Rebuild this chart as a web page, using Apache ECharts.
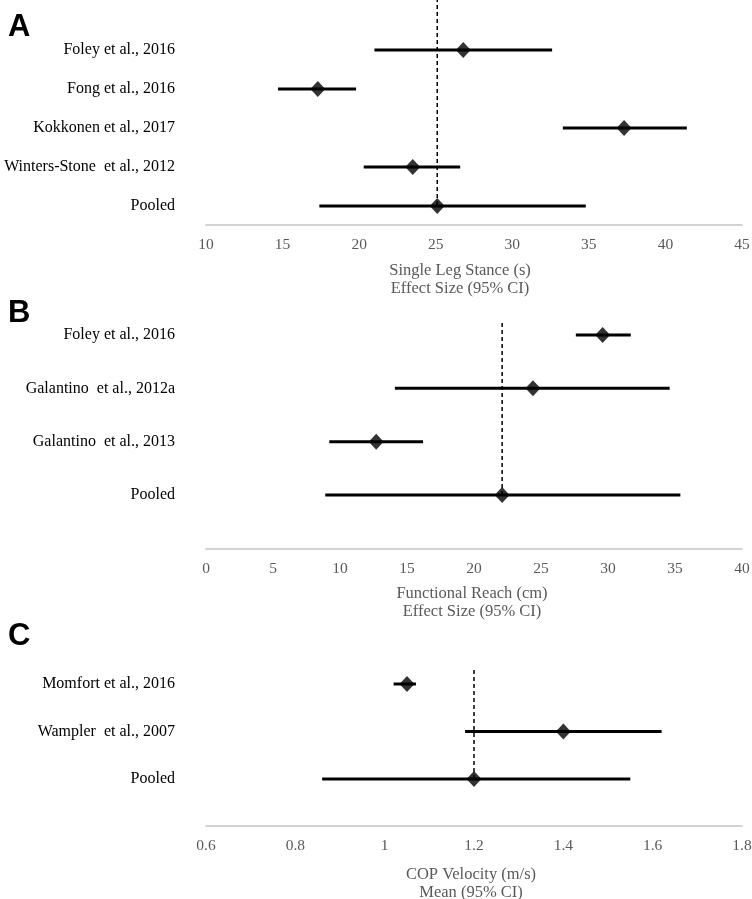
<!DOCTYPE html>
<html>
<head>
<meta charset="utf-8">
<script src="https://cdn.jsdelivr.net/npm/echarts@6/dist/echarts.min.js"></script>
<style>
html,body{margin:0;padding:0;background:#fff;}
#chart{width:752px;height:899px;}
</style>
</head>
<body>
<div id="chart"></div>
<script>
// ---- Panel A: Single Leg Stance ----
const catA = ['Foley et al., 2016', 'Fong et al., 2016', 'Kokkonen et al., 2017', 'Winters-Stone  et al., 2012', 'Pooled'];
const estA = [26.8, 17.3, 37.3, 23.5, 25.1];
const loA  = [21.0, 14.7, 33.3, 20.3, 17.4];
const hiA  = [32.6, 19.8, 41.4, 26.6, 34.8];
const ticksA = {min: 10, max: 45, interval: 5};
const nameA = 'Single Leg Stance (s)\nEffect Size (95% CI)';

// ---- Panel B: Functional Reach ----
const catB = ['Foley et al., 2016', 'Galantino  et al., 2012a', 'Galantino  et al., 2013', 'Pooled'];
const estB = [29.6, 24.4, 12.7, 22.1];
const loB  = [27.6, 14.1, 9.2, 8.9];
const hiB  = [31.7, 34.6, 16.2, 35.4];
const ticksB = {min: 0, max: 40, interval: 5};
const nameB = 'Functional Reach (cm)\nEffect Size (95% CI)';

// ---- Panel C: COP Velocity ----
const catC = ['Momfort et al., 2016', 'Wampler  et al., 2007', 'Pooled'];
const estC = [1.05, 1.40, 1.20];
const loC  = [1.02, 1.18, 0.86];
const hiC  = [1.07, 1.62, 1.55];
const ticksC = {min: 0.6, max: 1.8, interval: 0.2};
const nameC = 'COP Velocity (m/s)\nMean (95% CI)';

const panels = [
  {cat: catA, est: estA, lo: loA, hi: hiA, ticks: ticksA, name: nameA, letter: 'A',
   top: 50, height: 156, offset: 19, dashTop: 0, dashH: 205, letterY: 28, nameGap: 36, nameShift: 28},
  {cat: catB, est: estB, lo: loB, hi: hiB, ticks: ticksB, name: nameB, letter: 'B',
   top: 335, height: 160, offset: 54, dashTop: 323, dashH: 172, letterY: 314, nameGap: 35, nameShift: 4},
  {cat: catC, est: estC, lo: loC, hi: hiC, ticks: ticksC, name: nameC, letter: 'C',
   top: 684, height: 95, offset: 47, dashTop: 668, dashH: 111, letterY: 637, nameGap: 39, nameShift: 6}
];

const serif = '"Liberation Serif", "Times New Roman", serif';
const grid = [], xAxis = [], yAxis = [], series = [], graphic = [];

panels.forEach((p, i) => {
  const gi = grid.length;
  grid.push({left: 206, right: 10, top: p.top, height: p.height, containLabel: false, outerBoundsMode: 'none'});
  xAxis.push({
    type: 'value', gridIndex: gi, min: p.ticks.min, max: p.ticks.max, interval: p.ticks.interval,
    offset: p.offset,
    axisLine: {show: true, onZero: false, lineStyle: {color: '#c4c4c4', width: 1.5}},
    axisTick: {show: false}, splitLine: {show: false},
    axisLabel: {color: '#595959', fontFamily: serif, fontSize: 15.5, margin: 12,
      formatter: v => String(Math.round(v * 10) / 10)},
    name: p.name, nameLocation: 'middle', nameGap: p.nameGap,
    nameTextStyle: {color: '#595959', fontFamily: serif, fontSize: 16.5, lineHeight: 18.5,
      padding: [0, p.nameShift, 0, 0]}
  });
  yAxis.push({
    type: 'category', gridIndex: gi, data: p.cat, inverse: true, boundaryGap: false,
    axisLine: {show: false}, axisTick: {show: false}, splitLine: {show: false},
    axisLabel: {color: '#000', fontFamily: serif, fontSize: 16, margin: 31}
  });
  const xi = xAxis.length - 1, yi = yAxis.length - 1;

  // dashed reference line at the pooled estimate (own grid so it can extend above the rows)
  const dg = grid.length;
  grid.push({left: 206, right: 10, top: p.dashTop, height: p.dashH, containLabel: false, outerBoundsMode: 'none'});
  xAxis.push({type: 'value', gridIndex: dg, min: p.ticks.min, max: p.ticks.max, show: false});
  yAxis.push({type: 'value', gridIndex: dg, min: 0, max: 1, show: false});
  const pooled = p.est[p.est.length - 1];
  series.push({
    type: 'line', xAxisIndex: xAxis.length - 1, yAxisIndex: yAxis.length - 1,
    data: [[pooled, 0], [pooled, 1]], symbol: 'none', silent: true, z: 1,
    lineStyle: {color: '#000', width: 1.5, type: [4, 3]}
  });

  // confidence intervals
  series.push({
    type: 'custom', xAxisIndex: xi, yAxisIndex: yi, z: 2,
    data: p.cat.map((c, k) => [p.lo[k], p.hi[k], k]),
    encode: {x: [0, 1], y: 2},
    renderItem: (params, api) => {
      const a = api.coord([api.value(0), api.value(2)]);
      const b = api.coord([api.value(1), api.value(2)]);
      return {type: 'line', shape: {x1: a[0], y1: a[1], x2: b[0], y2: b[1]},
        style: {stroke: '#000', lineWidth: 3}};
    }
  });
  // point estimates
  series.push({
    type: 'scatter', xAxisIndex: xi, yAxisIndex: yi, z: 3,
    data: p.cat.map((c, k) => [p.est[k], k]),
    symbol: 'diamond', symbolSize: [15, 16],
    itemStyle: {color: '#000'}
  });

  graphic.push({
    type: 'text', left: 8, top: p.letterY - 16,
    style: {text: p.letter, fill: '#000', font: 'bold 31px "Liberation Sans", Arial, sans-serif'}
  });
});

const chart = echarts.init(document.getElementById('chart'), null, {renderer: 'canvas'});
chart.setOption({animation: false, grid, xAxis, yAxis, series, graphic});
</script>
</body>
</html>
